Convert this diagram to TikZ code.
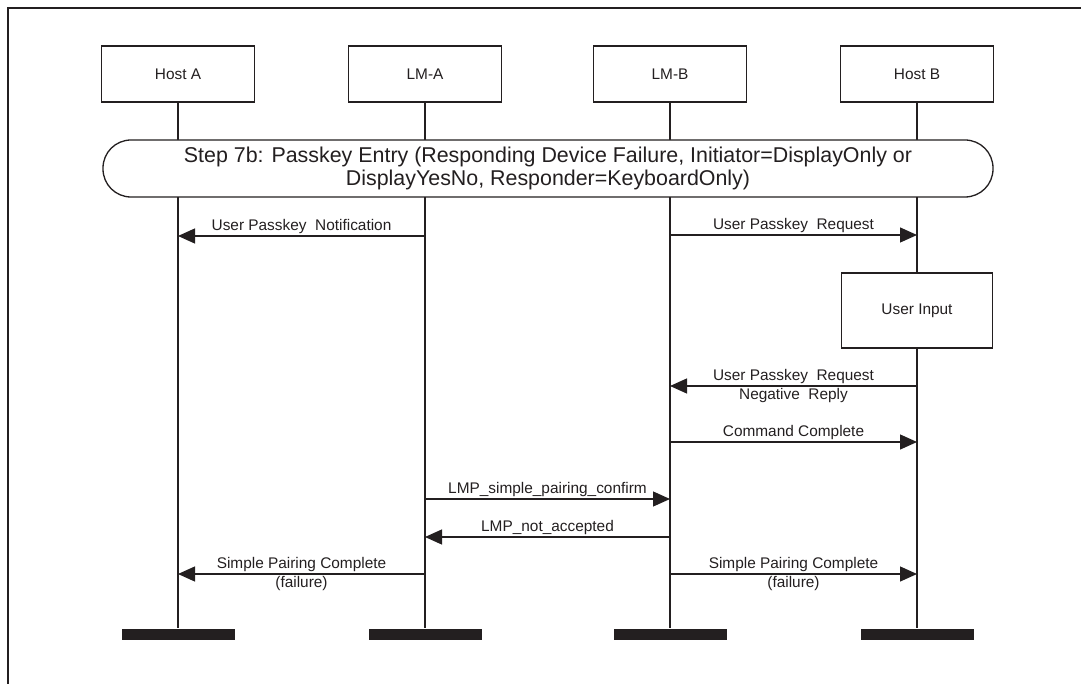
\documentclass[tikz,border=0pt]{standalone}
\usepackage{fontspec}
\setmainfont{Liberation Sans}
\usetikzlibrary{arrows.meta,positioning}
\definecolor{ink}{RGB}{35,31,32}

\begin{document}
\begin{tikzpicture}[
  x=1pt, y=-1pt,
  color=ink,
  font=\fontsize{15.4}{17}\selectfont,
  line width=1.3pt,
  actor/.style={draw, minimum width=153pt, minimum height=56pt, inner sep=0pt},
  stepbar/.style={draw, fill=white, rounded corners=28pt, minimum width=890pt, minimum height=57pt, align=center, font=\fontsize{21.4}{22.5}\selectfont},
  proc/.style={draw, fill=white, minimum width=151pt, minimum height=75pt, inner sep=0pt},
  endbar/.style={fill=ink, minimum width=113pt, minimum height=11pt, inner sep=0pt},
  msg/.style={-{Triangle[length=17pt,width=15pt]}},
  lbl/.style={inner sep=2pt, text height=11pt, text depth=3pt}
]
\useasboundingbox (0,0) rectangle (1081,684);
\draw[line width=1.5pt] (8,684) -- (8,8) -- (1081,8);

% actors
\node[actor] (hostA) at (178,74) {Host A};
\node[actor] (lmA) at (425,74) {LM-A};
\node[actor] (lmB) at (670,74) {LM-B};
\node[actor] (hostB) at (917,74) {Host B};

\node[endbar] (endA) at (178,634.5) {};
\node[endbar] (endLA) at (425,634.5) {};
\node[endbar] (endLB) at (670,634.5) {};
\node[endbar] (endB) at (917,634.5) {};

\node[proc] (input) at (917,310.5) {User Input};

% lifelines
\draw (hostA) -- (endA);
\draw (lmA) -- (endLA);
\draw (lmB) -- (endLB);
\draw (hostB) -- (input);
\draw (input) -- (endB);

\node[stepbar] (step) at (548,168.5) {Step 7b: Passkey Entry (Responding Device Failure, Initiator=DisplayOnly or\\DisplayYesNo, Responder=KeyboardOnly)};

% messages
\coordinate (m1s) at (425,236); \coordinate (m1e) at (178,236);
\coordinate (m2s) at (670,235); \coordinate (m2e) at (917,235);
\coordinate (m3s) at (917,386); \coordinate (m3e) at (670,386);
\coordinate (m4s) at (670,442); \coordinate (m4e) at (917,442);
\coordinate (m5s) at (425,499); \coordinate (m5e) at (670,499);
\coordinate (m6s) at (670,537); \coordinate (m6e) at (425,537);
\coordinate (m7s) at (425,574); \coordinate (m7e) at (178,574);
\coordinate (m8s) at (670,574); \coordinate (m8e) at (917,574);

\draw[msg] (m1s) -- node[above,lbl] {User Passkey\ \ Notification} (m1e);
\draw[msg] (m2s) -- node[above,lbl] {User Passkey\ \ Request} (m2e);
\draw[msg] (m3s) -- node[above,lbl] {User Passkey\ \ Request} node[below,lbl] {Negative\ \ Reply} (m3e);
\draw[msg] (m4s) -- node[above,lbl] {Command Complete} (m4e);
\draw[msg] (m5s) -- node[above,lbl] {LMP\_simple\_pairing\_confirm} (m5e);
\draw[msg] (m6s) -- node[above,lbl] {LMP\_not\_accepted} (m6e);
\draw[msg] (m7s) -- node[above,lbl] {Simple Pairing Complete} node[below,lbl] {(failure)} (m7e);
\draw[msg] (m8s) -- node[above,lbl] {Simple Pairing Complete} node[below,lbl] {(failure)} (m8e);
\end{tikzpicture}
\end{document}
